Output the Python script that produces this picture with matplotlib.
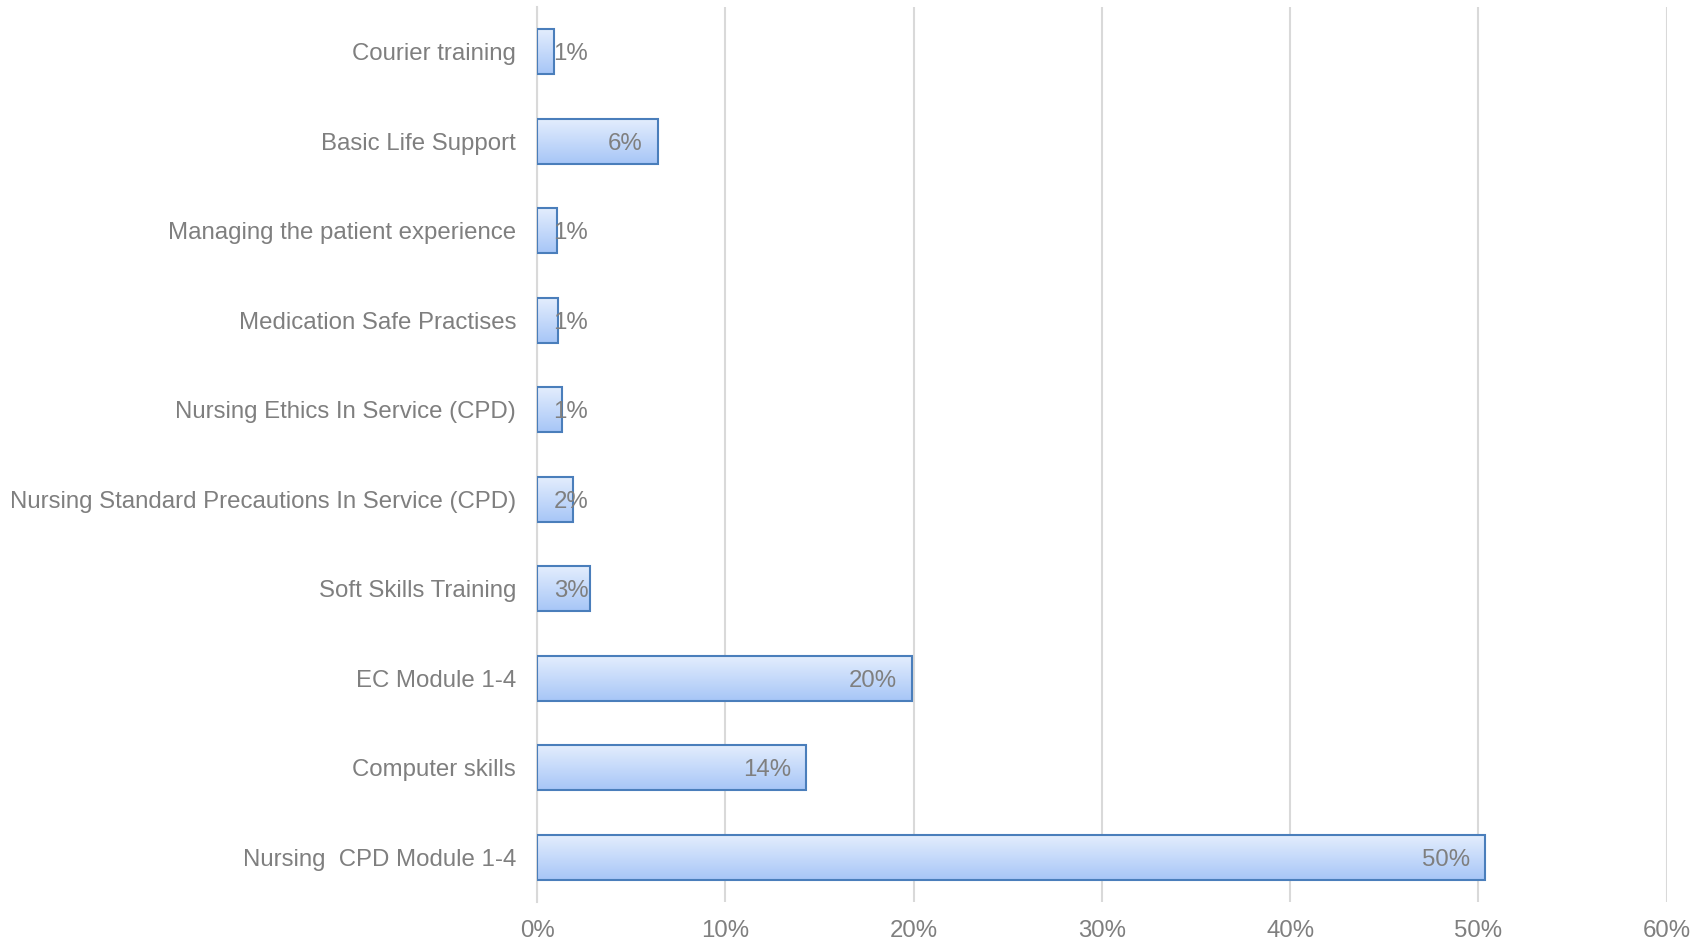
import matplotlib
matplotlib.use("Agg")
import matplotlib.pyplot as plt
import numpy as np
from matplotlib.colors import LinearSegmentedColormap

plt.rcParams['font.family'] = ['Liberation Sans', 'DejaVu Sans']

# data, bottom to top
courses = ["Nursing  CPD Module 1-4", "Computer skills", "EC Module 1-4",
           "Soft Skills Training", "Nursing Standard Precautions In Service (CPD)",
           "Nursing Ethics In Service (CPD)", "Medication Safe Practises",
           "Managing the patient experience", "Basic Life Support", "Courier training"]
shares = [50.35, 14.3, 19.92, 2.83, 1.9, 1.33, 1.1, 1.04, 6.4, 0.92]
labels = ["50%", "14%", "20%", "3%", "2%", "1%", "1%", "1%", "6%", "1%"]
xticks = [0, 10, 20, 30, 40, 50, 60]

text_col = "#7f7f7f"
grid_col = "#d9d9d9"
edge_col = "#4a7ebb"
grad = LinearSegmentedColormap.from_list("bargrad", ["#a7c6f7", "#e3edfd"])

fig = plt.figure(figsize=(17.05, 9.41), dpi=100)
ax = fig.add_axes([0.315, 0.0414, 0.6627, 0.9512])

ypos = np.arange(len(courses))
h = 0.5
bars = ax.barh(ypos, shares, height=h, facecolor="none", edgecolor=edge_col,
               linewidth=1.5, zorder=3)

# vertical gradient fill inside every bar
g = np.linspace(0, 1, 64).reshape(-1, 1)
for y, v in zip(ypos, shares):
    ax.imshow(g, extent=[0, v, y - h / 2, y + h / 2], origin="lower",
              aspect="auto", cmap=grad, zorder=2, interpolation="bicubic")

# data labels, inside end
for y, v, lab in zip(ypos, shares, labels):
    ax.text(max(v - 0.8, 2.72), y, lab, ha="right", va="center_baseline",
            fontsize=17.3, color=text_col, zorder=4)

ax.set_xlim(0, 60.02)
ax.set_ylim(-0.5, len(courses) - 0.5)
ax.set_xticks(xticks)
ax.set_xticklabels([f"{t}%" for t in xticks])
ax.set_yticks(ypos)
ax.set_yticklabels(courses)
for t in ax.get_yticklabels():
    t.set_verticalalignment("center_baseline")
ax.tick_params(axis="both", length=0, labelsize=17.3, labelcolor=text_col)
ax.tick_params(axis="x", pad=13)
ax.tick_params(axis="y", pad=15)

ax.xaxis.grid(True, color=grid_col, linewidth=1.5, zorder=0)
ax.set_axisbelow(True)
for s in ["top", "right", "bottom"]:
    ax.spines[s].set_visible(False)
ax.spines["left"].set_color(grid_col)
ax.spines["left"].set_linewidth(1.5)

fig.savefig("out.png", dpi=100)
